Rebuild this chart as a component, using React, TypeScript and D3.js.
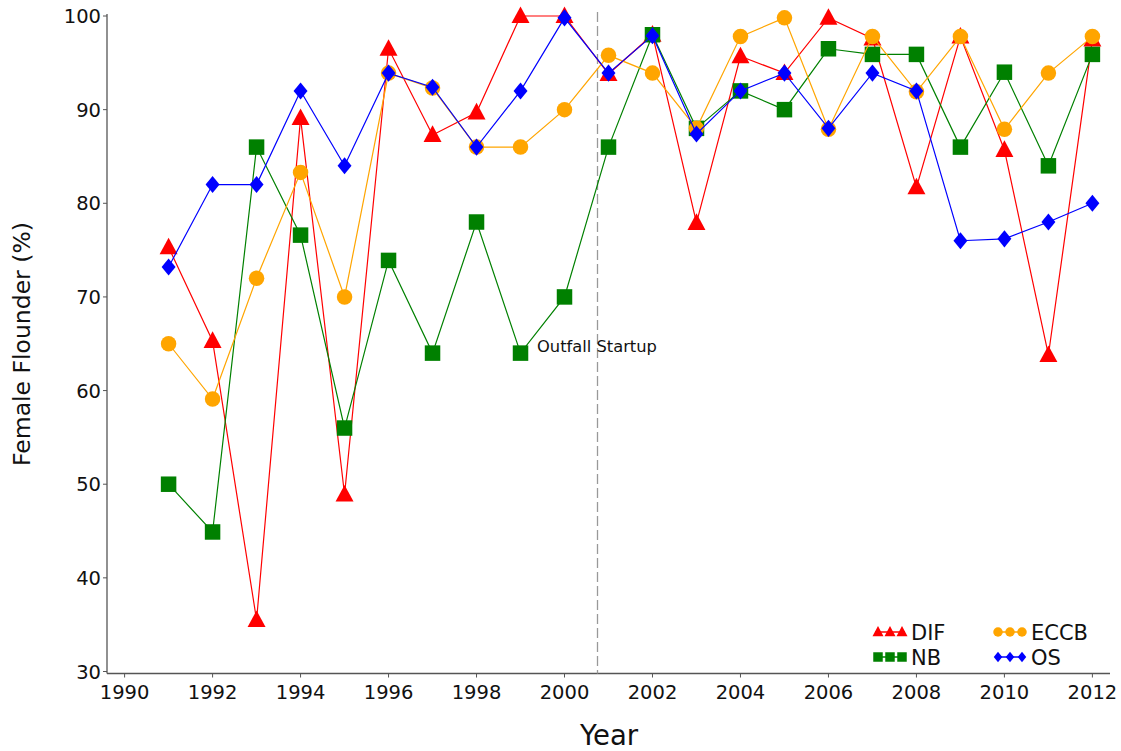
import React from "react";
import * as d3 from "d3";

const years = d3.range(1991, 2013);

const difValues = [75.3, 65.3, 35.5, 89.1, 48.9, 96.5, 87.3, 89.7, 100, 100, 93.8, 98, 77.9, 95.7, 93.9, 99.8, 97.6, 81.7, 97.8, 85.7, 63.8, 97.5];
const nbValues = [50, 44.9, 86, 76.6, 56, 73.9, 64, 78, 64, 70, 86, 98, 88, 92, 90, 96.5, 95.9, 95.9, 86, 94, 84, 95.9];
const eccbValues = [65, 59.1, 72, 83.3, 70, 93.9, 92.3, 86, 86, 90, 95.8, 93.9, 88, 97.8, 99.8, 87.9, 97.8, 91.9, 97.8, 87.9, 93.9, 97.8];
const osValues = [73.2, 82, 82, 92, 84, 93.9, 92.4, 86, 92, 99.8, 93.9, 97.9, 87.4, 92, 93.9, 88, 93.9, 92, 76, 76.2, 78, 80];

const xTicks = d3.range(1990, 2013, 2);
const yTicks = [30, 40, 50, 60, 70, 80, 90, 100];
const startupYear = 2000.75;

const series = [
  { name: "DIF", color: "#ff0000", shape: "triangle", values: difValues },
  { name: "NB", color: "#008000", shape: "square", values: nbValues },
  { name: "ECCB", color: "#ffa500", shape: "circle", values: eccbValues },
  { name: "OS", color: "#0000ff", shape: "diamond", values: osValues },
];

const W = 1121;
const H = 751;
const font = "DejaVu Sans, Verdana, sans-serif";

function symbolPath(shape: string, size: number) {
  if (shape === "triangle") return `M0,${-size * 0.62}L${size * 0.58},${size * 0.45}L${-size * 0.58},${size * 0.45}Z`;
  if (shape === "square") return `M${-size / 2},${-size / 2}h${size}v${size}h${-size}Z`;
  if (shape === "diamond") return `M0,${-size * 0.55}L${size * 0.45},0L0,${size * 0.55}L${-size * 0.45},0Z`;
  return d3.symbol(d3.symbolCircle, Math.PI * (size / 2) * (size / 2))() as string;
}

export default function App() {
  const x = d3.scaleLinear().domain([1989.6, 2012.4]).range([107, 1110]);
  const y = d3.scaleLinear().domain([30, 100]).range([671.5, 16]);
  const axisY = 673.5;

  const line = d3
    .line<number>()
    .x((_, i) => x(years[i]))
    .y((d) => y(d));

  const legendItems = [
    { s: series[0], lx: 875, ly: 632 },
    { s: series[1], lx: 875, ly: 657 },
    { s: series[2], lx: 995, ly: 632 },
    { s: series[3], lx: 995, ly: 657 },
  ];

  return (
    <svg width={W} height={H} style={{ position: "absolute", left: 0, top: 0, background: "#fff" }} fontFamily={font}>
      {/* axes */}
      <line x1={107} x2={107} y1={14} y2={axisY} stroke="#555" strokeWidth={1.3} />
      <line x1={107} x2={1110} y1={axisY} y2={axisY} stroke="#555" strokeWidth={1.3} />
      {yTicks.map((t) => (
        <g key={t}>
          <line x1={103} x2={107} y1={y(t)} y2={y(t)} stroke="#555" />
          <text x={101} y={y(t)} dy="0.36em" textAnchor="end" fontSize={19.5} fill="#111">
            {t}
          </text>
        </g>
      ))}
      {xTicks.map((t) => (
        <g key={t}>
          <line x1={x(t)} x2={x(t)} y1={axisY} y2={axisY + 4} stroke="#555" />
          <text x={x(t)} y={axisY + 25} textAnchor="middle" fontSize={19.5} fill="#111">
            {t}
          </text>
        </g>
      ))}
      <text x={609} y={745} textAnchor="middle" fontSize={27.5} fill="#111">
        Year
      </text>
      <text transform={`translate(30,344) rotate(-90)`} textAnchor="middle" fontSize={23.5} fill="#111">
        Female Flounder (%)
      </text>

      {/* outfall startup */}
      <line x1={x(startupYear)} x2={x(startupYear)} y1={12} y2={axisY} stroke="#999" strokeWidth={1.3} strokeDasharray="10,4" />
      <text x={537} y={352} fontSize={16.3} fill="#111">
        Outfall Startup
      </text>

      {/* series */}
      {series.map((s) => (
        <g key={s.name}>
          <path d={line(s.values) || ""} fill="none" stroke={s.color} strokeWidth={1.2} />
          {s.values.map((v, i) => (
            <path key={i} d={symbolPath(s.shape, 15.5)} transform={`translate(${x(years[i])},${y(v)})`} fill={s.color} />
          ))}
        </g>
      ))}

      {/* legend */}
      {legendItems.map(({ s, lx, ly }) => (
        <g key={s.name}>
          <line x1={lx} x2={lx + 30} y1={ly} y2={ly} stroke={s.color} strokeWidth={1.5} />
          {[0, 1, 2].map((k) => (
            <path key={k} d={symbolPath(s.shape, 9.5)} transform={`translate(${lx + 3 + k * 12},${ly})`} fill={s.color} />
          ))}
          <text x={lx + 36} y={ly} dy="0.36em" fontSize={21} fill="#111">
            {s.name}
          </text>
        </g>
      ))}
    </svg>
  );
}
